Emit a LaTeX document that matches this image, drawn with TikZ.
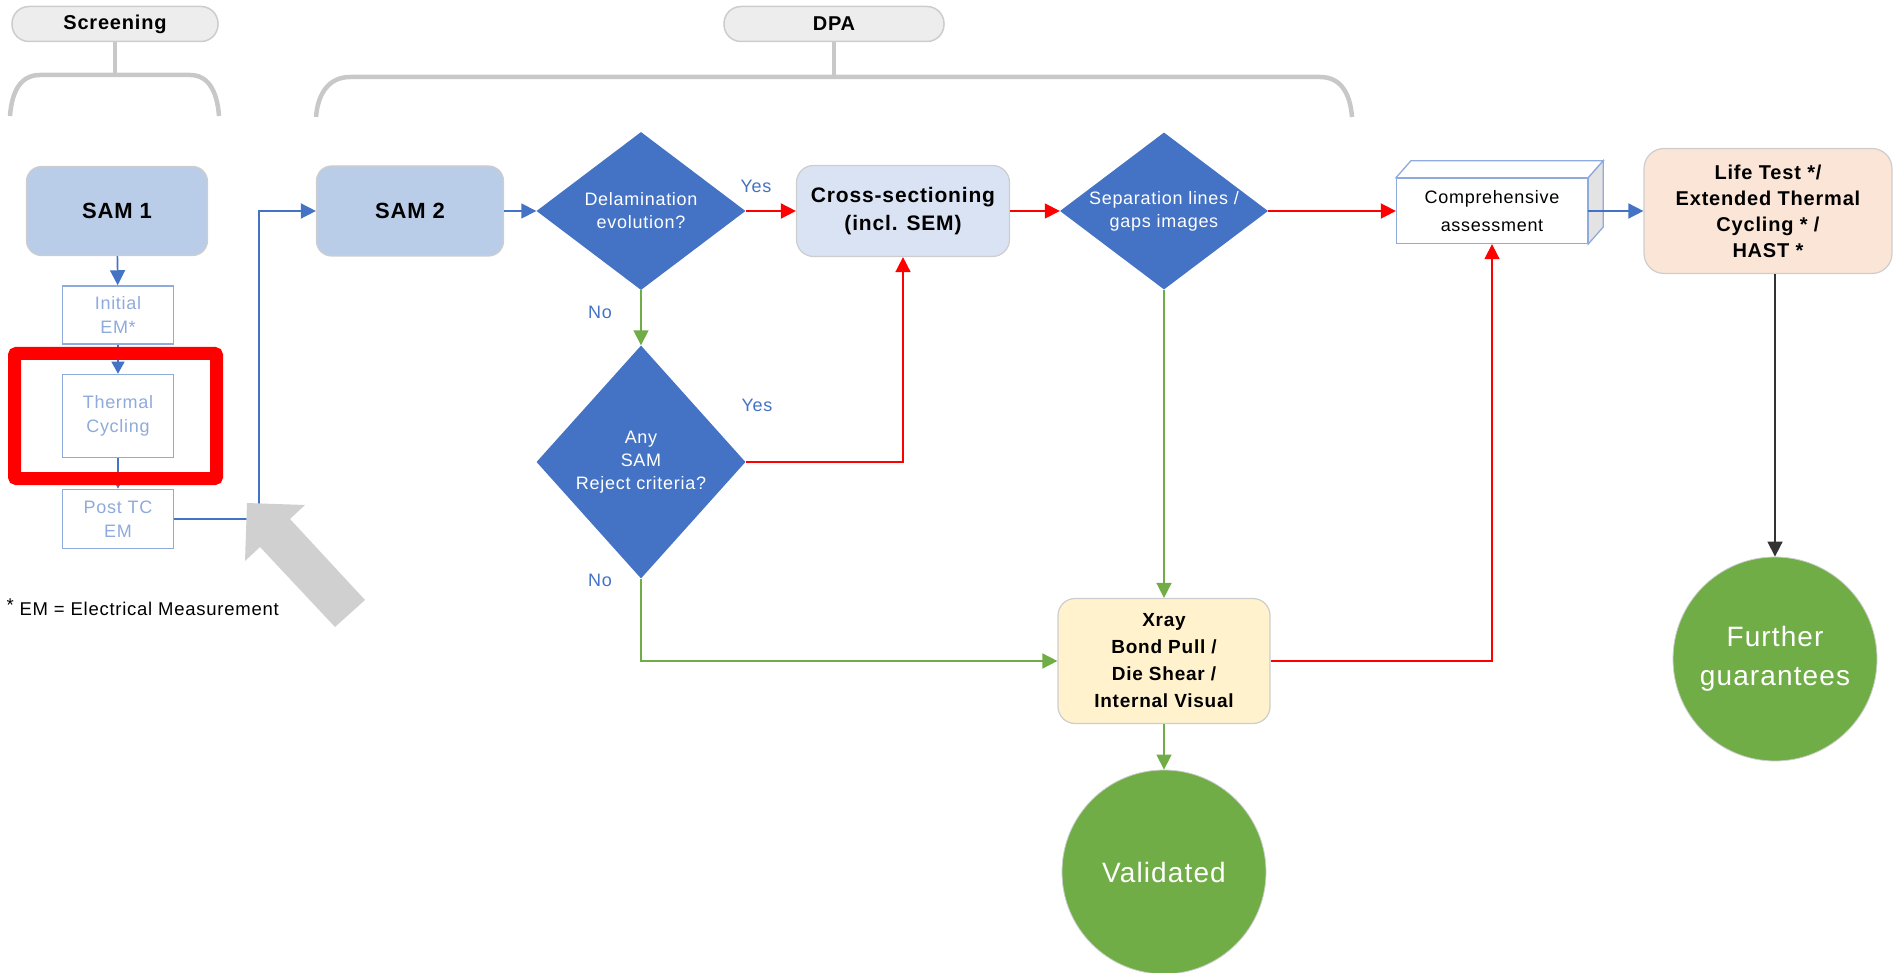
\documentclass[tikz,border=0pt]{standalone}
\usepackage{fontspec}
\setmainfont{Liberation Sans}[LetterSpace=4]
\usepackage{tikz}
\usetikzlibrary{arrows.meta,shapes,positioning}
\usepackage{xcolor}
\definecolor{dfblue}{RGB}{68,114,196}
\definecolor{dfgreen}{RGB}{112,173,71}
\definecolor{dfred}{RGB}{255,0,0}
\definecolor{samblue}{RGB}{186,205,232}
\definecolor{emblue}{RGB}{143,170,220}
\definecolor{crossblue}{RGB}{218,227,243}
\definecolor{lifeorange}{RGB}{251,229,214}
\definecolor{xrayyellow}{RGB}{255,242,204}
\definecolor{pillgray}{RGB}{237,237,237}
\definecolor{edgegray}{RGB}{205,205,205}
\definecolor{bracegray}{RGB}{200,200,200}
\definecolor{pointgray}{RGB}{208,208,208}
\newcommand{\setfsz}[2]{\fontsize{#1}{#2}\selectfont}
\tikzstyle{arrow} = [line width=1.6pt,-{Triangle[length=15pt,width=15pt]}]
\tikzstyle{blueline} = [arrow,color=dfblue]
\tikzstyle{redline} = [arrow,color=dfred]
\tikzstyle{greenline} = [arrow,color=dfgreen]
\tikzstyle{pill} = [draw=edgegray,fill=pillgray,line width=1.5pt,rounded corners=17pt,minimum width=206pt,minimum height=35pt,font=\setfsz{20}{24}\bfseries]
\tikzstyle{sambox} = [draw=edgegray,fill=samblue,line width=1.2pt,rounded corners=15pt,minimum width=181pt,minimum height=89pt,font=\setfsz{22}{26}\bfseries]
\tikzstyle{embox} = [draw=emblue,fill=white,line width=1.5pt,text=emblue,align=center,minimum width=111pt,inner sep=0pt,font=\setfsz{18}{24}]
\tikzstyle{decision} = [diamond,fill=dfblue,text=white,align=center,inner sep=0pt,font=\setfsz{18}{23}]
\tikzstyle{taskbox} = [draw=edgegray,line width=1.2pt,rounded corners=17pt,align=center]
\tikzstyle{goal} = [circle,fill=dfgreen,draw=edgegray,line width=0.8pt,text=white,align=center,minimum size=204pt,font=\setfsz{28}{39}]
\tikzstyle{answer} = [text=dfblue,font=\setfsz{18}{22}]
\tikzstyle{brace} = [line width=4.5pt,color=bracegray]

\begin{document}
\begin{tikzpicture}[x=1pt,y=-1pt]
\useasboundingbox (0,0) rectangle (1893,973);

% Phase headers
\node[pill] (screening) at (115,24) {Screening};
\node[pill,minimum width=220pt] (dpa) at (834,24) {DPA};
\draw[brace] (screening.south) -- (115,75);
\draw[brace] (10,116) .. controls (12,89) and (22,75) .. (40,75) -- (190,75) .. controls (207,75) and (217,89) .. (219,116);
\draw[brace] (dpa.south) -- (834,77);
\draw[brace] (316,117) .. controls (318,92) and (330,77) .. (350,77) -- (1320,77) .. controls (1340,77) and (1350,92) .. (1352,117);

% Screening
\node[sambox] (sam1) at (117,211) {SAM 1};
\node[embox,minimum height=58pt] (initem) at (118,315) {Initial\\EM*};
\node[embox,minimum height=83pt] (tc) at (118,416) {Thermal\\Cycling};
\node[embox,minimum height=59pt] (posttc) at (118,519) {Post TC\\EM};
\node[anchor=west,font=\setfsz{18.5}{22}] (note) at (3,607) {\raisebox{4pt}{*} EM = Electrical Measurement};

% DPA
\node[sambox,minimum width=187pt,minimum height=90pt] (sam2) at (410,211) {SAM 2};
\node[decision,minimum width=209pt,minimum height=158pt,shape aspect=1.33] (delam) at (641,211) {Delamination\\evolution?};
\node[decision,minimum width=209pt,minimum height=233pt,shape aspect=0.9] (anysam) at (641,462) {Any\\SAM\\Reject criteria?};
\node[taskbox,fill=crossblue,minimum width=213pt,minimum height=91pt,font=\setfsz{21}{28}\bfseries] (cross) at (903,211) {Cross-sectioning\\(incl. SEM)};
\node[decision,minimum width=208pt,minimum height=157pt,shape aspect=1.33] (sepl) at (1164,211) {Separation lines /\\gaps images};
\node[taskbox,fill=xrayyellow,minimum width=212pt,minimum height=125pt,font=\setfsz{19}{27}\bfseries] (xray) at (1164,661) {Xray\\Bond Pull /\\Die Shear /\\Internal Visual};
\node[goal] (valid) at (1164,872) {Validated};

% Comprehensive assessment box
\node[draw=emblue,fill=white,line width=1.3pt,minimum width=191pt,minimum height=65pt,align=center,font=\setfsz{18}{28}] (comp) at (1492,211) {Comprehensive\\assessment};
\filldraw[draw=emblue,fill=white,line width=1.3pt] (comp.north west) -- ++(15,-17) -- ([shift={(15,-17)}]comp.north east) -- (comp.north east) -- cycle;
\filldraw[draw=emblue,fill=gray!22,line width=1.3pt] (comp.north east) -- ++(15,-17) -- ([shift={(15,-17)}]comp.south east) -- (comp.south east) -- cycle;

% Further tests
\node[taskbox,fill=lifeorange,minimum width=248pt,minimum height=125pt,rounded corners=20pt,font=\setfsz{20}{26}\bfseries] (life) at (1768,211) {Life Test */\\Extended Thermal\\Cycling * /\\HAST *};
\node[goal] (further) at (1775,659) {Further\\guarantees};

% Decision labels
\node[answer] (yes1) at (756,186) {Yes};
\node[answer] (no1) at (600,312) {No};
\node[answer] (yes2) at (757,405) {Yes};
\node[answer] (no2) at (600,580) {No};

% Connectors
\draw[blueline] (sam1) -- (initem);
\draw[blueline,line width=1.2pt,-{Triangle[length=12pt,width=13pt]}] (initem) -- (tc);
\draw[blueline,line width=1.2pt,-{Triangle[length=7pt,width=7pt]}] (tc) -- (posttc);
\draw[blueline] (posttc.east) -- ++(85,0) |- (sam2.west);
\draw[blueline] (sam2) -- (delam);
\draw[redline] (delam) -- (cross);
\draw[greenline] (delam) -- (anysam);
\draw[redline] (anysam.east) -| (cross.south);
\draw[greenline] (anysam.south) |- (xray.west);
\draw[redline] (cross) -- (sepl);
\draw[redline] (sepl.east) -- (comp.west);
\draw[greenline] (sepl) -- (xray);
\draw[redline] (xray.east) -| (comp.south);
\draw[greenline] (xray) -- (valid);
\draw[blueline] (comp.east) -- (life.west);
\draw[arrow,color=black!80] (life.south -| further.north) -- (further.north);

% Highlight
\draw[dfred,line width=13pt,rounded corners=2pt] (14.5,353.5) rectangle (216.5,478.5);
\fill[pointgray] (247,503) -- (305,505) -- (290,519) -- (365,600) -- (335,627) -- (260,547) -- (245,561) -- cycle;
\end{tikzpicture}
\end{document}
